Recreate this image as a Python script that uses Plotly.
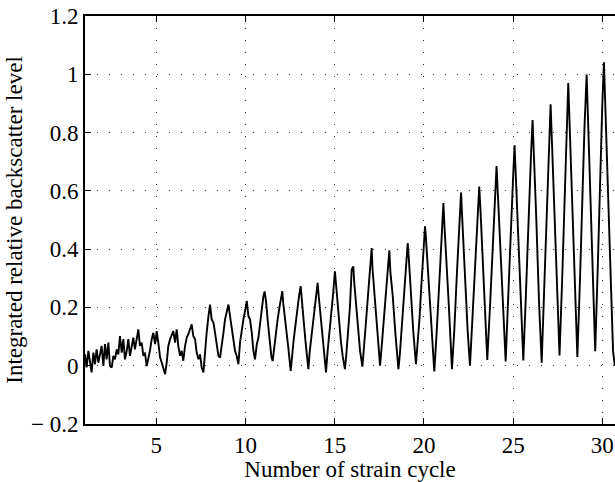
import plotly.graph_objects as go

# Values (x: strain cycle, y: backscatter level)
x_early = [1.00, 1.09, 1.19, 1.28, 1.37, 1.47, 1.56, 1.65, 1.75, 1.84, 1.93, 2.03, 2.12, 2.21, 2.31,
           2.40, 2.50, 2.59, 2.68, 2.78, 2.87, 2.96, 3.06, 3.15, 3.24, 3.34, 3.43, 3.52, 3.62, 3.71,
           3.80, 3.90, 3.99, 4.08, 4.18, 4.27, 4.36, 4.46, 4.55, 4.64, 4.74, 4.83, 4.93, 5.02, 5.11,
           5.21, 5.30, 5.49, 5.58, 5.67, 5.77, 5.86, 5.95, 6.05, 6.14, 6.23, 6.33, 6.42, 6.51, 6.61,
           6.70, 6.79, 6.89, 6.98, 7.07, 7.17, 7.26, 7.36, 7.45, 7.54, 7.64, 7.73, 7.82, 7.92, 8.01,
           8.10, 8.20, 8.29, 8.38, 8.48, 8.57, 8.66, 8.76, 8.85, 8.94, 9.04, 9.13, 9.22, 9.32, 9.41,
           9.50, 9.60, 9.69, 9.79, 9.88, 9.97, 10.07, 10.16, 10.25, 10.35, 10.44, 10.53, 10.63, 10.72,
           10.81, 10.91, 11.00]
y_early = [0.039, -0.006, 0.051, 0.011, -0.023, 0.045, 0.005, 0.056, 0.011, 0.039, 0.068, -0.001, 0.074, 0.022, 0.079,
           -0.001, -0.006, 0.034, 0.022, 0.056, 0.039, 0.102, 0.045, 0.091, 0.022, 0.051, 0.091, 0.034, 0.068, 0.096,
           0.056, 0.091, 0.125, 0.068, 0.079, 0.034, 0.045, -0.001, 0.022, 0.051, 0.091, 0.113, 0.074, 0.119, 0.079,
           0.028, 0.011, -0.029, 0.011, 0.068, 0.091, 0.108, 0.119, 0.079, 0.125, 0.068, 0.034, 0.051, 0.017, 0.068,
           0.096, 0.108, 0.125, 0.142, 0.102, 0.091, 0.045, 0.022, 0.039, -0.006, -0.023, 0.056, 0.113, 0.170, 0.210,
           0.159, 0.148, 0.113, 0.079, 0.034, 0.028, 0.079, 0.113, 0.159, 0.182, 0.210, 0.170, 0.125, 0.085, 0.051,
           0.034, 0.005, 0.079, 0.125, 0.159, 0.187, 0.222, 0.170, 0.159, 0.113, 0.051, 0.022, 0.074, 0.096,
           0.148, 0.199, 0.239]

x_late = [11.07, 11.15, 11.25, 11.35, 11.45, 11.52, 11.6, 11.7, 11.8, 11.9, 12.0, 12.06, 12.12, 12.2, 12.3,
          12.4, 12.53, 12.6, 12.7, 12.8, 12.9, 13.0, 13.09, 13.15, 13.25, 13.35, 13.45, 13.52, 13.6, 13.7,
          13.8, 13.9, 14.0, 14.04, 14.1, 14.2, 14.3, 14.4, 14.51, 14.6, 14.7, 14.8, 14.9, 15.01, 15.08,
          15.2, 15.35, 15.45, 15.57, 15.65, 15.75, 15.85, 15.95, 16.04, 16.1, 16.2, 16.3, 16.42, 16.55,
          16.65, 16.75, 16.85, 16.95, 17.07, 17.12, 17.2, 17.3, 17.42, 17.54, 17.65, 17.75, 17.85, 17.95,
          18.06, 18.12, 18.25, 18.4, 18.57, 18.65, 18.75, 18.9, 19.0, 19.09, 19.15, 19.25, 19.4, 19.55,
          19.62, 19.75, 19.85, 19.95, 20.06, 20.1, 20.2, 20.35, 20.45, 20.58, 20.7, 20.8, 20.9, 21.0,
          21.09, 21.15, 21.25, 21.4, 21.57, 21.7, 21.85, 22.0, 22.08, 22.15, 22.3, 22.45, 22.58, 22.7,
          22.85, 23.0, 23.1, 23.18, 23.3, 23.45, 23.55, 23.7, 23.85, 24.0, 24.07, 24.15, 24.3, 24.45,
          24.58, 24.7, 24.85, 25.0, 25.08, 25.15, 25.3, 25.45, 25.57, 25.7, 25.85, 26.0, 26.09, 26.17,
          26.3, 26.45, 26.6, 26.75, 26.9, 27.0, 27.1, 27.18, 27.3, 27.45, 27.6, 27.75, 27.9, 28.0,
          28.09, 28.17, 28.3, 28.45, 28.6, 28.75, 28.9, 29.0, 29.12, 29.2, 29.35, 29.5, 29.6, 29.75,
          29.9, 30.0, 30.09, 30.17, 30.3, 30.45, 30.6, 30.7]
y_late = [0.255, 0.22, 0.15, 0.08, 0.03, 0.016, 0.06, 0.12, 0.16, 0.2, 0.23, 0.256, 0.21, 0.17, 0.12,
          0.06, -0.018, 0.04, 0.09, 0.14, 0.2, 0.24, 0.273, 0.22, 0.16, 0.09, 0.03, -0.012, 0.05, 0.1,
          0.16, 0.21, 0.26, 0.284, 0.24, 0.17, 0.1, 0.04, -0.023, 0.05, 0.11, 0.18, 0.24, 0.324, 0.27,
          0.2, 0.08, 0.03, -0.012, 0.04, 0.12, 0.2, 0.33, 0.341, 0.28, 0.21, 0.13, 0.05, -0.003,
          0.06, 0.15, 0.23, 0.3, 0.404, 0.33, 0.27, 0.18, 0.08, 0.0, 0.08, 0.16, 0.25, 0.33,
          0.396, 0.32, 0.24, 0.11, -0.012, 0.04, 0.13, 0.27, 0.35, 0.421, 0.37, 0.26, 0.12, 0.005,
          0.05, 0.16, 0.27, 0.38, 0.478, 0.45, 0.35, 0.2, 0.1, -0.02, 0.1, 0.2, 0.33, 0.45,
          0.558, 0.48, 0.38, 0.2, -0.012, 0.12, 0.32, 0.5, 0.594, 0.5, 0.3, 0.12, 0.0, 0.14,
          0.35, 0.52, 0.615, 0.52, 0.35, 0.15, 0.02, 0.2, 0.42, 0.6, 0.685, 0.58, 0.38, 0.18,
          0.015, 0.2, 0.45, 0.65, 0.756, 0.65, 0.43, 0.2, 0.018, 0.22, 0.5, 0.72, 0.843, 0.72,
          0.5, 0.22, 0.01, 0.28, 0.56, 0.74, 0.897, 0.76, 0.55, 0.26, 0.035, 0.3, 0.6, 0.8,
          0.97, 0.82, 0.58, 0.28, 0.03, 0.3, 0.62, 0.82, 0.999, 0.85, 0.55, 0.25, 0.05, 0.35,
          0.7, 0.9, 1.041, 0.88, 0.6, 0.3, 0.05, 0.0]

x_tick_vals = [5, 10, 15, 20, 25, 30]
y_tick_vals = [-0.2, 0, 0.2, 0.4, 0.6, 0.8, 1.0, 1.2]
y_tick_text = ["\u2212 0.2", "0", "0.2", "0.4", "0.6", "0.8", "1", "1.2"]

x_title = "Number of strain cycle"
y_title = "Integrated relative backscatter level"

FONT = "Liberation Serif, Times New Roman, serif"

fig = go.Figure()
fig.add_trace(go.Scatter(
    x=x_early + x_late, y=y_early + y_late, mode="lines",
    line=dict(color="black", width=1.9), showlegend=False, hoverinfo="skip"))

axis_common = dict(
    showline=True, linecolor="black", linewidth=1.6,
    ticks="inside", ticklen=6, tickwidth=1, tickcolor="black",
    showgrid=True, gridcolor="#333333", gridwidth=1, griddash="1px,11px",
    zeroline=False,
    tickfont=dict(family=FONT, size=23, color="black"),
)

fig.update_layout(
    width=615, height=482,
    margin=dict(l=85, r=0, t=16, b=58),
    paper_bgcolor="white", plot_bgcolor="white",
    font=dict(family=FONT, size=23, color="black"),
    xaxis=dict(range=[1, 30.71], tickvals=x_tick_vals, mirror="allticks",
               title=dict(text=x_title, font=dict(family=FONT, size=23), standoff=2),
               automargin=False, **axis_common),
    yaxis=dict(range=[-0.2, 1.2], tickvals=y_tick_vals, ticktext=y_tick_text,
               title=dict(text=y_title, font=dict(family=FONT, size=23), standoff=2),
               automargin=False, **axis_common),
)

fig.write_html("out.html")
